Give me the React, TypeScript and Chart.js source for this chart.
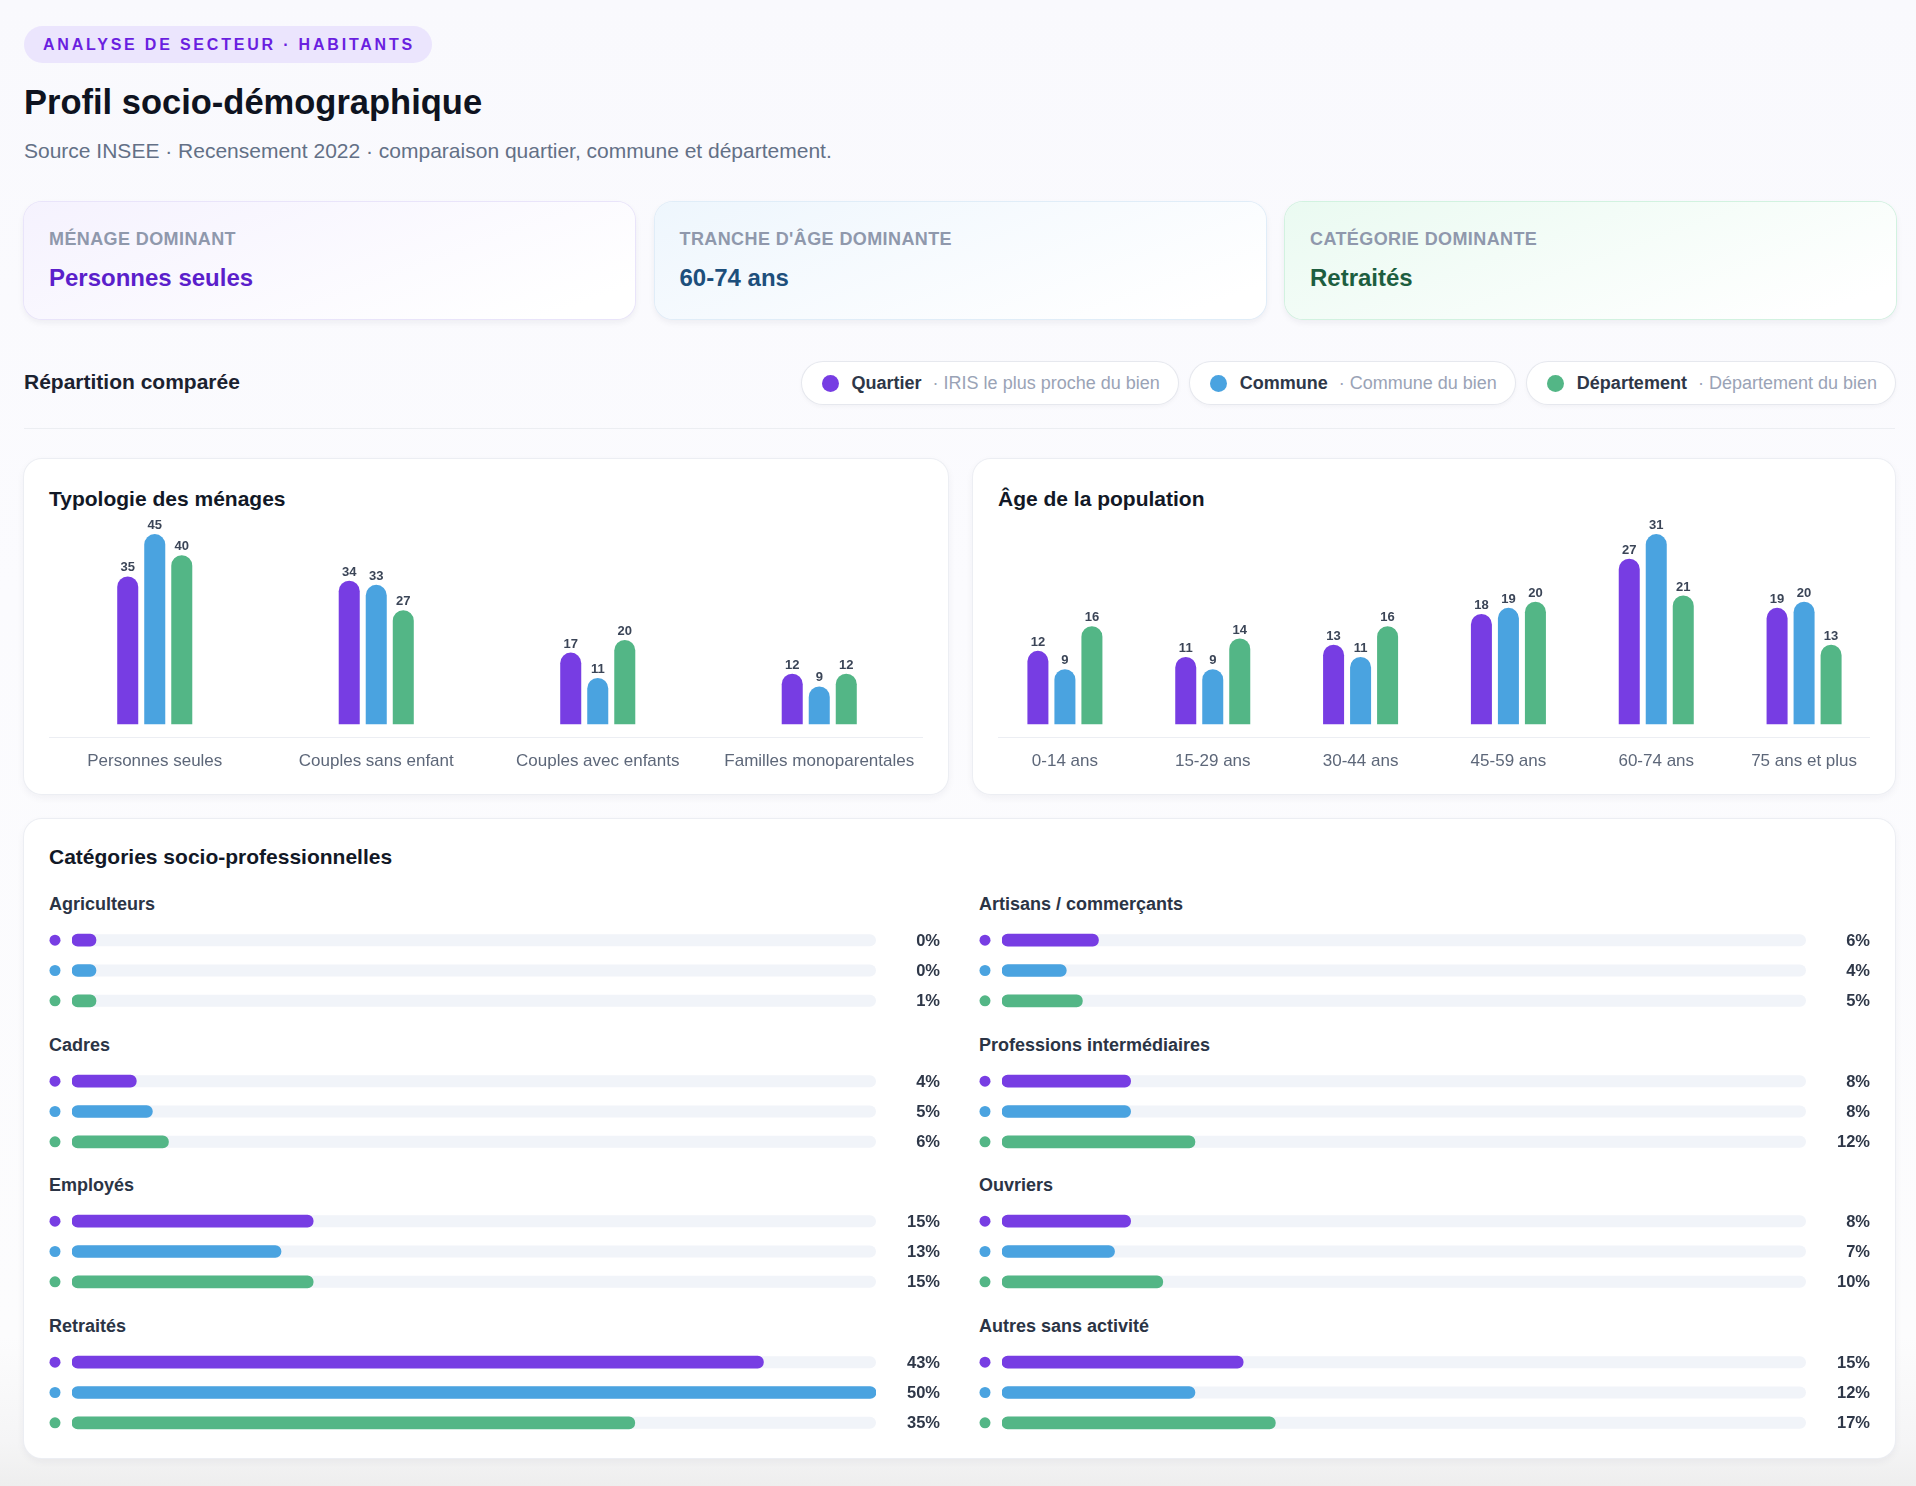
import React, { useEffect, useRef } from "react";
import { Chart, registerables } from "chart.js";

Chart.register(...registerables);

const FONT = "'Liberation Sans', Arial, Helvetica, sans-serif";
Chart.defaults.font.family = FONT;

// Series shared by every chart
const SERIES_NAMES = ["Quartier", "Commune", "Département"];
const SERIES_NOTES = ["IRIS le plus proche du bien", "Commune du bien", "Département du bien"];
const SERIES_COLORS = ["#773de3", "#4aa3e0", "#53b686"];

// Typologie des ménages (%)
const HOUSEHOLD_LABELS = ["Personnes seules", "Couples sans enfant", "Couples avec enfants", "Familles monoparentales"];
const HOUSEHOLD_QUARTIER = [35, 34, 17, 12];
const HOUSEHOLD_COMMUNE = [45, 33, 11, 9];
const HOUSEHOLD_DEPARTEMENT = [40, 27, 20, 12];

// Âge de la population (%)
const AGE_LABELS = ["0-14 ans", "15-29 ans", "30-44 ans", "45-59 ans", "60-74 ans", "75 ans et plus"];
const AGE_QUARTIER = [12, 11, 13, 18, 27, 19];
const AGE_COMMUNE = [9, 9, 11, 19, 31, 20];
const AGE_DEPARTEMENT = [16, 14, 16, 20, 21, 13];

// Catégories socio-professionnelles (%)
const CSP_LABELS = [
  "Agriculteurs",
  "Artisans / commerçants",
  "Cadres",
  "Professions intermédiaires",
  "Employés",
  "Ouvriers",
  "Retraités",
  "Autres sans activité",
];
const CSP_QUARTIER = [0, 6, 4, 8, 15, 8, 43, 15];
const CSP_COMMUNE = [0, 4, 5, 8, 13, 7, 50, 12];
const CSP_DEPARTEMENT = [1, 5, 6, 12, 15, 10, 35, 17];

const KPI_LABELS = ["Ménage dominant", "Tranche d'âge dominante", "Catégorie dominante"];
const KPI_VALUES = ["Personnes seules", "60-74 ans", "Retraités"];

const CSP_MAX = Math.max(...CSP_QUARTIER, ...CSP_COMMUNE, ...CSP_DEPARTEMENT);

// Value printed above each column
const columnValues = {
  id: "columnValues",
  afterDatasetsDraw(chart: any) {
    const { ctx } = chart;
    ctx.save();
    ctx.font = `bold 13px ${FONT}`;
    ctx.fillStyle = "#3b4557";
    ctx.textAlign = "center";
    ctx.textBaseline = "alphabetic";
    chart.data.datasets.forEach((ds: any, i: number) => {
      const meta = chart.getDatasetMeta(i);
      meta.data.forEach((el: any, j: number) => {
        ctx.fillText(String(ds.data[j]), el.x, el.y - 5);
      });
    });
    ctx.restore();
  },
};

// Thin rule under the columns
const baseRule = {
  id: "baseRule",
  beforeDatasetsDraw(chart: any, _args: any, opts: any) {
    const { ctx, chartArea, width } = chart;
    const y = Math.round(chartArea.bottom + 12) + 0.5;
    ctx.save();
    ctx.strokeStyle = "#eceef3";
    ctx.lineWidth = 1;
    ctx.beginPath();
    ctx.moveTo(opts.inset ?? 25, y);
    ctx.lineTo(width - (opts.inset ?? 25), y);
    ctx.stroke();
    ctx.restore();
  },
};

// Track, series dot and percentage for each horizontal bar
const barDecor = {
  id: "barDecor",
  beforeDatasetsDraw(chart: any) {
    const { ctx, chartArea } = chart;
    const meta = chart.getDatasetMeta(0);
    ctx.save();
    meta.data.forEach((el: any, j: number) => {
      const h = 12;
      const x = chartArea.left;
      const w = chartArea.right - chartArea.left;
      const y = el.y - h / 2;
      ctx.fillStyle = "#f1f4f9";
      ctx.beginPath();
      (ctx as any).roundRect(x, y, w, h, h / 2);
      ctx.fill();
      ctx.fillStyle = SERIES_COLORS[j];
      ctx.beginPath();
      ctx.arc(6, el.y, 5.5, 0, Math.PI * 2);
      ctx.fill();
    });
    ctx.restore();
  },
  afterDatasetsDraw(chart: any) {
    const { ctx, width } = chart;
    const meta = chart.getDatasetMeta(0);
    const data = chart.data.datasets[0].data;
    ctx.save();
    ctx.font = `bold 16.5px ${FONT}`;
    ctx.fillStyle = "#2e3748";
    ctx.textAlign = "right";
    ctx.textBaseline = "middle";
    meta.data.forEach((el: any, j: number) => {
      ctx.fillText(`${data[j]}%`, width - 1, el.y + 1);
    });
    ctx.restore();
  },
};

type ColumnProps = {
  width: number;
  height: number;
  labels: string[];
  series: number[][];
  catPct: number;
  padLeft: number;
  padRight: number;
};

function ColumnChart({ width, height, labels, series, catPct, padLeft, padRight }: ColumnProps) {
  const ref = useRef<HTMLCanvasElement>(null);
  useEffect(() => {
    if (!ref.current) return;
    const max = Math.max(...series.flat());
    const chart = new Chart(ref.current, {
      type: "bar",
      data: {
        labels,
        datasets: series.map((d, i) => ({
          label: SERIES_NAMES[i],
          data: d,
          backgroundColor: SERIES_COLORS[i],
          borderRadius: 20,
          borderSkipped: "start",
          categoryPercentage: catPct,
          barPercentage: 0.778,
        })),
      },
      options: {
        responsive: false,
        animation: false,
        layout: { padding: { left: padLeft, right: padRight, top: 6, bottom: 0 } },
        plugins: {
          legend: { display: false },
          tooltip: { enabled: false },
          baseRule: { inset: 25 },
        } as any,
        scales: {
          x: {
            grid: { display: false, drawTicks: false },
            border: { display: false },
            ticks: { color: "#5d6779", font: { size: 17 }, padding: 27, maxRotation: 0, autoSkip: false },
          },
          y: { display: false, min: 0, max: max * 1.1 },
        },
      },
      plugins: [columnValues, baseRule],
    });
    return () => chart.destroy();
  }, []);
  return <canvas ref={ref} width={width} height={height} style={{ display: "block", width, height }} />;
}

function CspBars({ values }: { values: number[] }) {
  const ref = useRef<HTMLCanvasElement>(null);
  useEffect(() => {
    if (!ref.current) return;
    const chart = new Chart(ref.current, {
      type: "bar",
      data: {
        labels: SERIES_NAMES,
        datasets: [
          {
            data: values,
            backgroundColor: SERIES_COLORS,
            barThickness: 12,
            borderRadius: 6,
            borderSkipped: false,
            minBarLength: 24,
          },
        ],
      },
      options: {
        indexAxis: "y",
        responsive: false,
        animation: false,
        layout: { padding: { left: 23, right: 65, top: 0, bottom: 0 } },
        plugins: { legend: { display: false }, tooltip: { enabled: false } },
        scales: {
          x: { display: false, min: 0, max: CSP_MAX },
          y: { display: false },
        },
      },
      plugins: [barDecor],
    });
    return () => chart.destroy();
  }, []);
  return <canvas ref={ref} width={892} height={91} style={{ display: "block", width: 892, height: 91 }} />;
}

const abs = (left: number, top: number, width?: number, height?: number): React.CSSProperties => ({
  position: "absolute",
  left,
  top,
  width,
  height,
});

const panelStyle: React.CSSProperties = {
  background: "#ffffff",
  borderRadius: 18,
  boxShadow: "0 0 0 1px #eceef3, 0 3px 8px rgba(30, 35, 60, 0.06)",
};

const panelTitle: React.CSSProperties = {
  fontSize: 21,
  fontWeight: 700,
  color: "#121826",
  lineHeight: "24px",
  whiteSpace: "nowrap",
};

const KPI_THEMES = [
  { bg: "linear-gradient(160deg, #f5f2fe 0%, #ffffff 90%)", border: "#e9e4fa", color: "#5b1fcb" },
  { bg: "linear-gradient(160deg, #eef6fd 0%, #ffffff 90%)", border: "#e0edf8", color: "#1d4f7c" },
  { bg: "linear-gradient(160deg, #eafaf1 0%, #ffffff 90%)", border: "#d2f2e0", color: "#1d5e3f" },
];

export default function App() {
  const cspSeries = CSP_LABELS.map((_, i) => [CSP_QUARTIER[i], CSP_COMMUNE[i], CSP_DEPARTEMENT[i]]);
  return (
    <div
      style={{
        position: "relative",
        width: 1916,
        height: 1486,
        overflow: "hidden",
        fontFamily: FONT,
        background:
          "linear-gradient(180deg, #f9f9fd 0%, #fbfbfe 40%, #fcfcfd 90%, #f5f5f6 97%, #eeeeee 100%)",
      }}
    >
      <style>{"body{margin:0}"}</style>

      {/* Header */}
      <div
        style={{
          ...abs(24, 26, undefined, 37),
          background: "#ebe5fd",
          borderRadius: 19,
          padding: "0 17px 0 19px",
          display: "flex",
          alignItems: "center",
          fontSize: 16,
          fontWeight: 700,
          letterSpacing: 2.8,
          color: "#6a1fe0",
          whiteSpace: "nowrap",
        }}
      >
        ANALYSE DE SECTEUR · HABITANTS
      </div>
      <div
        style={{
          ...abs(24, 82),
          fontSize: 34.5,
          fontWeight: 700,
          lineHeight: "41px",
          letterSpacing: 0,
          color: "#0e1320",
          whiteSpace: "nowrap",
        }}
      >
        Profil socio-démographique
      </div>
      <div style={{ ...abs(24, 139), fontSize: 21, lineHeight: "24px", color: "#637086", whiteSpace: "nowrap" }}>
        Source INSEE · Recensement 2022 · comparaison quartier, commune et département.
      </div>

      {/* KPI cards */}
      {KPI_LABELS.map((label, i) => (
        <div
          key={label}
          style={{
            ...abs(24 + i * 630.5, 202, 611, 117),
            background: KPI_THEMES[i].bg,
            borderRadius: 18,
            boxShadow: `0 0 0 1px ${KPI_THEMES[i].border}, 0 3px 7px rgba(30, 35, 60, 0.07)`,
          }}
        >
          <div
            style={{
              ...abs(25, 27),
              fontSize: 18,
              fontWeight: 700,
              letterSpacing: 0.4,
              lineHeight: "20px",
              color: "#8f98ac",
              textTransform: "uppercase",
              whiteSpace: "nowrap",
            }}
          >
            {label}
          </div>
          <div
            style={{
              ...abs(25, 62),
              fontSize: 24,
              fontWeight: 700,
              lineHeight: "28px",
              color: KPI_THEMES[i].color,
              whiteSpace: "nowrap",
            }}
          >
            {KPI_VALUES[i]}
          </div>
        </div>
      ))}

      {/* Legend row */}
      <div style={{ ...abs(24, 370), ...panelTitle, color: "#1b2230" }}>Répartition comparée</div>
      <div style={{ ...abs(0, 362, 1895, 42), display: "flex", justifyContent: "flex-end", gap: 12 }}>
        {SERIES_NAMES.map((name, i) => (
          <div
            key={name}
            style={{
              height: 42,
              boxSizing: "border-box",
              padding: "0 18px 0 20px",
              display: "flex",
              alignItems: "center",
              background: "#ffffff",
              borderRadius: 21,
              boxShadow: "0 0 0 1px #e6e8ee, 0 2px 5px rgba(30, 35, 60, 0.05)",
              whiteSpace: "nowrap",
            }}
          >
            <span
              style={{
                width: 17,
                height: 17,
                borderRadius: 9,
                background: SERIES_COLORS[i],
                marginRight: 13,
                display: "inline-block",
              }}
            />
            <span style={{ fontSize: 18, fontWeight: 700, color: "#2e3748" }}>{name}</span>
            <span style={{ fontSize: 18, color: "#9aa3b6", marginLeft: 11 }}>· {SERIES_NOTES[i]}</span>
          </div>
        ))}
      </div>
      <div style={{ ...abs(24, 428, 1871, 1), background: "#eceef2" }} />

      {/* Typologie des ménages */}
      <div style={{ ...abs(24, 459, 924, 335), ...panelStyle }}>
        <div style={{ ...abs(25, 28), ...panelTitle }}>Typologie des ménages</div>
        <div style={abs(0, 50)}>
          <ColumnChart
            width={924}
            height={290}
            labels={HOUSEHOLD_LABELS}
            series={[HOUSEHOLD_QUARTIER, HOUSEHOLD_COMMUNE, HOUSEHOLD_DEPARTEMENT]}
            catPct={0.366}
            padLeft={20}
            padRight={18}
          />
        </div>
      </div>

      {/* Âge de la population */}
      <div style={{ ...abs(973, 459, 922, 335), ...panelStyle }}>
        <div style={{ ...abs(25, 28), ...panelTitle }}>Âge de la population</div>
        <div style={abs(0, 50)}>
          <ColumnChart
            width={922}
            height={290}
            labels={AGE_LABELS}
            series={[AGE_QUARTIER, AGE_COMMUNE, AGE_DEPARTEMENT]}
            catPct={0.548}
            padLeft={18}
            padRight={17}
          />
        </div>
      </div>

      {/* Catégories socio-professionnelles */}
      <div style={{ ...abs(24, 819, 1871, 639), ...panelStyle }}>
        <div style={{ ...abs(25, 26), ...panelTitle }}>Catégories socio-professionnelles</div>
        {CSP_LABELS.map((label, i) => {
          const col = i % 2;
          const row = Math.floor(i / 2);
          const left = col === 0 ? 25 : 955;
          return (
            <React.Fragment key={label}>
              <div
                style={{
                  ...abs(left, 75 + row * 140.5),
                  fontSize: 18,
                  fontWeight: 700,
                  lineHeight: "21px",
                  color: "#2b3445",
                  whiteSpace: "nowrap",
                }}
              >
                {label}
              </div>
              <div style={abs(left, 106 + row * 140.5)}>
                <CspBars values={cspSeries[i]} />
              </div>
            </React.Fragment>
          );
        })}
      </div>
    </div>
  );
}
